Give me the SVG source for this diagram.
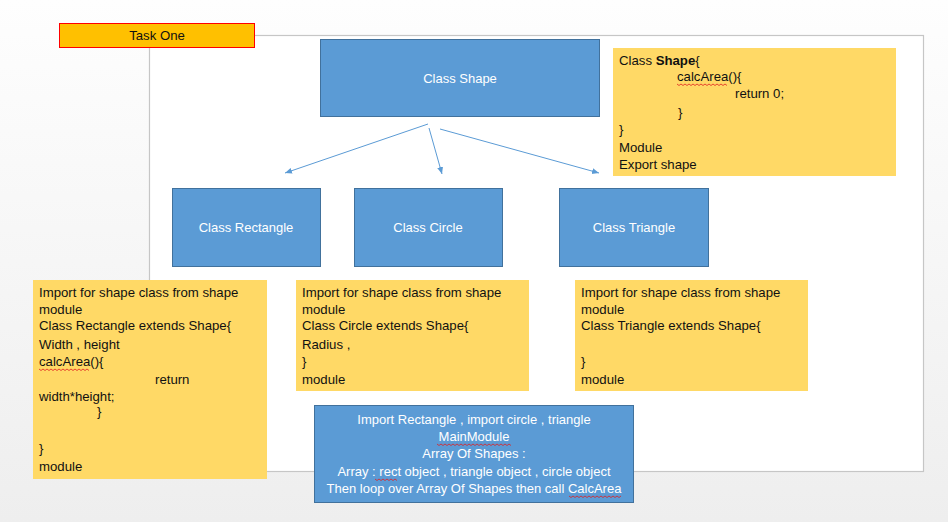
<svg xmlns="http://www.w3.org/2000/svg" width="948" height="522" viewBox="0 0 948 522">
<defs>
<linearGradient id="bg" x1="0" y1="0" x2="0" y2="1">
<stop offset="0" stop-color="#fefefe"/>
<stop offset="1" stop-color="#eeeeee"/>
</linearGradient>
<marker id="ah" markerWidth="8" markerHeight="8" refX="7" refY="4" orient="auto" markerUnits="userSpaceOnUse">
<path d="M0,1 L7,4 L0,7 Z" fill="#5b9bd5"/>
</marker>
<style>
.blue{fill:#5b9bd5;stroke:#41719c;stroke-width:1}
.yel{fill:#ffd966}
.wt{font-family:"Liberation Sans",Arial,sans-serif;font-size:13px;fill:#ffffff;text-anchor:middle}
.bt{font-family:"Liberation Sans",Arial,sans-serif;font-size:13.2px;fill:#111111}
.conn{stroke:#5b9bd5;stroke-width:1;fill:none}
.sq{stroke:#e02020;stroke-width:0.8;fill:none}
</style>
</defs>
<rect x="0" y="0" width="948" height="522" fill="url(#bg)"/>
<rect x="149.5" y="35.5" width="774" height="436" fill="#ffffff" stroke="#c6c6c6" stroke-width="1.2"/>

<g id="task-one">
<rect x="59.5" y="23.5" width="195" height="24" fill="#ffc000" stroke="#ff0000" stroke-width="1"/>
<text x="157" y="40" class="bt" text-anchor="middle">Task One</text>
</g>

<g id="class-shape">
<rect class="blue" x="320.5" y="39.5" width="279" height="77"/>
<text class="wt" x="460" y="83">Class Shape</text>
</g>

<g id="shape-code">
<rect class="yel" x="613" y="48" width="283" height="128"/>
<text class="bt" x="619" y="65">Class <tspan font-weight="bold">Shape</tspan>{</text>
<text class="bt" x="677" y="81">calcArea(){</text>
<path class="sq" d="M677,84 l2,1.5 l2,-1.5 l2,1.5 l2,-1.5 l2,1.5 l2,-1.5 l2,1.5 l2,-1.5 l2,1.5 l2,-1.5 l2,1.5 l2,-1.5 l2,1.5 l2,-1.5 l2,1.5 l2,-1.5 l2,1.5 l2,-1.5 l2,1.5 l2,-1.5 l2,1.5 l2,-1.5 l2,1.5 l2,-1.5 l2,1.5"/>
<text class="bt" x="735" y="98">return 0;</text>
<text class="bt" x="678" y="117">}</text>
<text class="bt" x="619" y="134">}</text>
<text class="bt" x="619" y="152">Module</text>
<text class="bt" x="619" y="169">Export shape</text>
</g>

<g id="connectors">
<line class="conn" x1="428" y1="124" x2="285" y2="173" marker-end="url(#ah)"/>
<line class="conn" x1="429" y1="128" x2="442" y2="174" marker-end="url(#ah)"/>
<line class="conn" x1="440" y1="129" x2="599" y2="173" marker-end="url(#ah)"/>
</g>

<g id="class-rectangle">
<rect class="blue" x="172.5" y="188.5" width="148" height="78"/>
<text class="wt" x="246" y="232">Class Rectangle</text>
</g>

<g id="class-circle">
<rect class="blue" x="354.5" y="188.5" width="148" height="78"/>
<text class="wt" x="428" y="232">Class Circle</text>
</g>

<g id="class-triangle">
<rect class="blue" x="559.5" y="188.5" width="149" height="78"/>
<text class="wt" x="634" y="232">Class Triangle</text>
</g>

<g id="rectangle-code">
<rect class="yel" x="33" y="280" width="234" height="199"/>
<text class="bt" x="39" y="297">Import for shape class from shape</text>
<text class="bt" x="39" y="314">module</text>
<text class="bt" x="39" y="330">Class Rectangle extends Shape{</text>
<text class="bt" x="39" y="349">Width , height</text>
<text class="bt" x="39" y="366">calcArea(){</text>
<path class="sq" d="M39,369 l2,1.5 l2,-1.5 l2,1.5 l2,-1.5 l2,1.5 l2,-1.5 l2,1.5 l2,-1.5 l2,1.5 l2,-1.5 l2,1.5 l2,-1.5 l2,1.5 l2,-1.5 l2,1.5 l2,-1.5 l2,1.5 l2,-1.5 l2,1.5 l2,-1.5 l2,1.5 l2,-1.5 l2,1.5 l2,-1.5 l2,1.5"/>
<text class="bt" x="155" y="384">return</text>
<text class="bt" x="39" y="401">width*height;</text>
<text class="bt" x="97" y="416">}</text>
<text class="bt" x="39" y="453">}</text>
<text class="bt" x="39" y="471">module</text>
</g>

<g id="circle-code">
<rect class="yel" x="296" y="280" width="233" height="111"/>
<text class="bt" x="302" y="297">Import for shape class from shape</text>
<text class="bt" x="302" y="314">module</text>
<text class="bt" x="302" y="330">Class Circle extends Shape{</text>
<text class="bt" x="302" y="349">Radius ,</text>
<text class="bt" x="302" y="366">}</text>
<text class="bt" x="302" y="384">module</text>
</g>

<g id="triangle-code">
<rect class="yel" x="575" y="280" width="233" height="111"/>
<text class="bt" x="581" y="297">Import for shape class from shape</text>
<text class="bt" x="581" y="314">module</text>
<text class="bt" x="581" y="330">Class Triangle extends Shape{</text>
<text class="bt" x="581" y="366">}</text>
<text class="bt" x="581" y="384">module</text>
</g>

<g id="main-module">
<rect class="blue" x="314.5" y="405.5" width="319" height="97"/>
<text class="wt" x="474" y="424">Import Rectangle , import circle , triangle</text>
<text class="wt" x="474" y="441">MainModule</text>
<path class="sq" d="M437,444 l2,1.5 l2,-1.5 l2,1.5 l2,-1.5 l2,1.5 l2,-1.5 l2,1.5 l2,-1.5 l2,1.5 l2,-1.5 l2,1.5 l2,-1.5 l2,1.5 l2,-1.5 l2,1.5 l2,-1.5 l2,1.5 l2,-1.5 l2,1.5 l2,-1.5 l2,1.5 l2,-1.5 l2,1.5 l2,-1.5 l2,1.5 l2,-1.5 l2,1.5 l2,-1.5 l2,1.5 l2,-1.5 l2,1.5 l2,-1.5 l2,1.5 l2,-1.5 l2,1.5 l2,-1.5 l2,1.5"/>
<text class="wt" x="474" y="458">Array Of Shapes :</text>
<text class="wt" x="474" y="476">Array : rect object , triangle object , circle object</text>
<path class="sq" d="M375,479 l2,1.5 l2,-1.5 l2,1.5 l2,-1.5 l2,1.5 l2,-1.5 l2,1.5 l2,-1.5 l2,1.5 l2,-1.5 l2,1.5"/>
<text class="wt" x="474" y="493">Then loop over Array Of Shapes then call CalcArea</text>
<path class="sq" d="M569,496 l2,1.5 l2,-1.5 l2,1.5 l2,-1.5 l2,1.5 l2,-1.5 l2,1.5 l2,-1.5 l2,1.5 l2,-1.5 l2,1.5 l2,-1.5 l2,1.5 l2,-1.5 l2,1.5 l2,-1.5 l2,1.5 l2,-1.5 l2,1.5 l2,-1.5 l2,1.5 l2,-1.5 l2,1.5 l2,-1.5 l2,1.5 l2,-1.5"/>
</g>
</svg>
